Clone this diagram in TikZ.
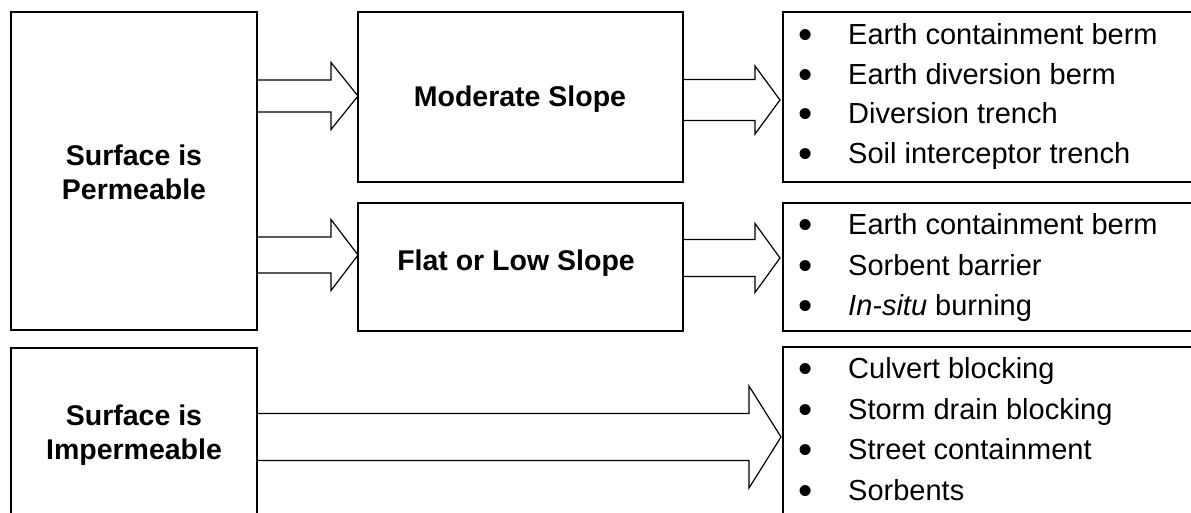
\documentclass[tikz,border=0pt]{standalone}
\usepackage{fontspec}
\setmainfont{Liberation Sans}
\usetikzlibrary{calc}
\newcommand\blockarr[5]{%
  \draw[barrow] let \p1=(#2), \p2=(#1) in
    (\x2,\y1+#3pt) -- (\x1-#5pt,\y1+#3pt) -- (\x1-#5pt,\y1+#4pt) -- (\x1,\y1)
    -- (\x1-#5pt,\y1-#4pt) -- (\x1-#5pt,\y1-#3pt) -- (\x2,\y1-#3pt);}
\newcommand\bul{\makebox[50pt][l]{\raisebox{-4pt}{\scalebox{1.4}{\textbullet}}}}
\tikzset{
  boxnode/.style={draw, line width=2pt, inner sep=0pt, outer sep=0pt},
  barrow/.style={draw, line width=1.2pt, line join=miter},
  head/.style={font=\fontsize{28.5}{34}\selectfont\bfseries, inner sep=0pt, align=center},
  item/.style={font=\fontsize{29}{34}\selectfont, inner sep=0pt, anchor=base west}
}
\begin{document}
\begin{tikzpicture}[x=1pt,y=-1pt]
\useasboundingbox (0,0) rectangle (1191,512);
\clip (0,0) rectangle (1191,512);
\fill[white] (0,0) rectangle (1191,512);
% boxes
\node[boxnode, minimum width=246pt, minimum height=318pt] (perm) at (134,171) {};
\node[boxnode, minimum width=325pt, minimum height=170pt] (mod) at (520.5,97) {};
\node[boxnode, minimum width=325pt, minimum height=128pt] (flat) at (520.5,267) {};
\node[boxnode, minimum width=246pt, minimum height=172pt] (imp) at (134,434) {};
\node[boxnode, minimum width=418pt, minimum height=170pt] (lone) at (992,97) {};
\node[boxnode, minimum width=418pt, minimum height=128pt] (ltwo) at (992,267) {};
\node[boxnode, minimum width=418pt, minimum height=173pt] (lthree) at (992,433.5) {};
% labels
\node[head] (permtxt) at (134,172.7) {Surface is\\Permeable};
\node[head] (imptxt) at (134,434.8) {\fontsize{28.5}{36.7}\selectfont Surface is\\Impermeable};
\node[head, anchor=base] (modtxt) at (520,106.7) {Moderate Slope};
\node[head, anchor=base] (flattxt) at (516,270) {Flat or Low Slope};
% list items
\node[item] (a1) at (798,44) {\bul Earth containment berm};
\node[item] (a2) at (798,84) {\bul Earth diversion berm};
\node[item] (a3) at (798,123.5) {\bul Diversion trench};
\node[item] (a4) at (798,163) {\bul Soil interceptor trench};
\node[item] (b1) at (798,234) {\bul Earth containment berm};
\node[item] (b2) at (798,275) {\bul Sorbent barrier};
\node[item] (b3) at (798,315) {\bul \textit{In-situ} burning};
\node[item] (c1) at (798,378.5) {\bul Culvert blocking};
\node[item] (c2) at (798,419) {\bul Storm drain blocking};
\node[item] (c3) at (798,459.5) {\bul Street containment};
\node[item] (c4) at (798,500) {\bul Sorbents};
% block arrows
\blockarr{perm.east}{$(mod.west)+(0,-1)$}{16}{33.5}{27}
\blockarr{perm.east}{$(flat.west)+(0,-12)$}{18}{35.5}{27}
\blockarr{mod.east}{$(lone.west)+(-3,3)$}{20.5}{34}{25}
\blockarr{flat.east}{$(ltwo.west)+(-3,-9)$}{18.5}{34.5}{25}
\blockarr{imp.east}{$(lthree.west)+(-2,3.5)$}{23.5}{51}{32}
\end{tikzpicture}
\end{document}
